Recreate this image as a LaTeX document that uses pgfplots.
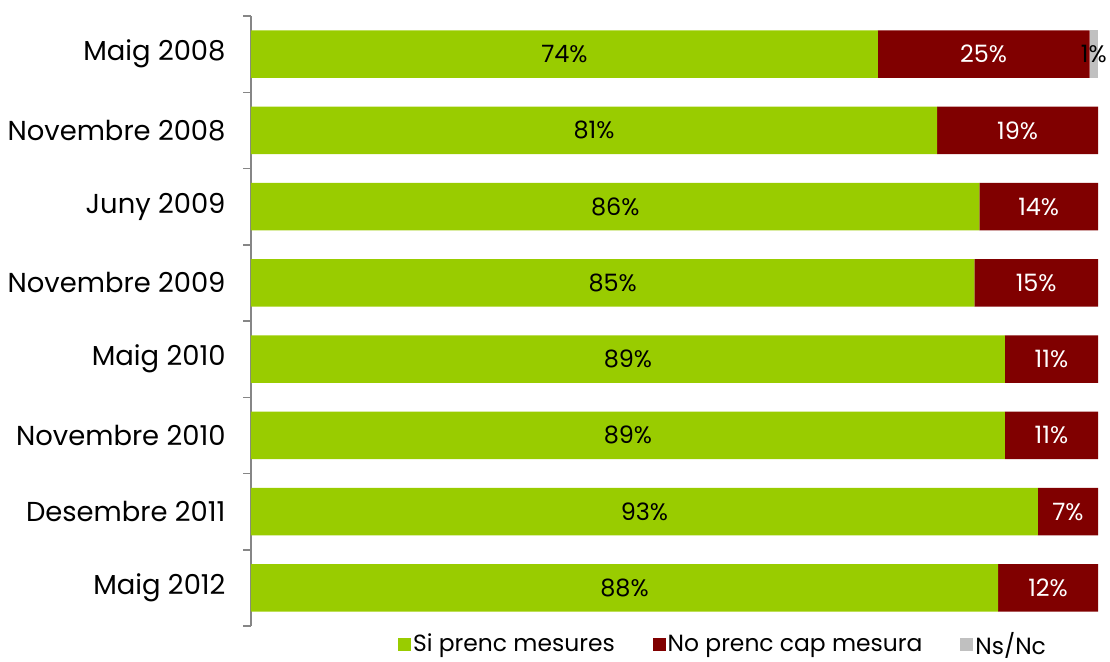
\documentclass[border=0pt]{standalone}
\usepackage{pgfplots}
\pgfplotsset{compat=1.18}
\usepackage{fontspec}
\setmainfont{Poppins}
\definecolor{cgreen}{RGB}{153,204,0}
\definecolor{cred}{RGB}{128,0,0}
\definecolor{cgray}{RGB}{192,192,192}
\definecolor{axgray}{RGB}{134,134,134}
\pgfplotsset{
  common/.style={
    at={(251bp,36bp)}, anchor=south west,
    scale only axis, width=847bp, height=610bp,
    xmin=0, xmax=100, ymin=-0.5, ymax=7.5,
    y dir=reverse,
  }
}
\begin{document}
\begin{tikzpicture}
\useasboundingbox (0,0) rectangle (1110bp,662bp);
\begin{axis}[
  common,
  xbar stacked, bar width=0.62,
  axis x line=none,
  axis y line*=left,
  y axis line style={axgray, line width=1.5bp},
  ytick={0,...,7},
  yticklabels={Maig 2008, Novembre 2008, Juny 2009, Novembre 2009, Maig 2010, Novembre 2010, Desembre 2011, Maig 2012},
  major tick length=0pt,
  minor ytick={-0.5,0.5,...,7.5},
  minor tick length=8bp,
  tick align=outside,
  minor tick style={axgray, line width=1.5bp},
  yticklabel style={font=\fontsize{27.5}{31}\selectfont, xshift=-22bp},
  legend style={at={(0.17,-0.003)}, anchor=north west, draw=none, fill=none,
    legend columns=3, font=\fontsize{23.5}{27}\selectfont,
    /tikz/every even column/.append style={column sep=36bp}},
  legend image code/.code={\fill[#1,draw=none] (0bp,-7bp) rectangle (13bp,6bp);},
]
\addplot[fill=cgreen, draw=none] coordinates {(74,0) (81,1) (86,2) (85.4,3) (89,4) (89,5) (92.9,6) (88.2,7)};
\addplot[fill=cred, draw=none] coordinates {(25,0) (19,1) (14,2) (14.6,3) (11,4) (11,5) (7.1,6) (11.8,7)};
\addplot[fill=cgray, draw=none] coordinates {(1,0) (0,1) (0,2) (0,3) (0,4) (0,5) (0,6) (0,7)};
\legend{Si prenc mesures, No prenc cap mesura, Ns/Nc}
\end{axis}
\begin{axis}[
  common, hide axis,
  nodes near coords, point meta=explicit symbolic,
  every node near coord/.append style={anchor=center, font=\fontsize{24}{28}\selectfont},
]
\addplot[draw=none, nodes near coords style={text=black}] coordinates {
 (37,0) [74\%] (40.5,1) [81\%] (43,2) [86\%] (42.7,3) [85\%]
 (44.5,4) [89\%] (44.5,5) [89\%] (46.45,6) [93\%] (44.1,7) [88\%]};
\addplot[draw=none, nodes near coords style={text=white}] coordinates {
 (86.5,0) [25\%] (90.5,1) [19\%] (93,2) [14\%] (92.7,3) [15\%]
 (94.5,4) [11\%] (94.5,5) [11\%] (96.45,6) [7\%] (94.1,7) [12\%]};
\addplot[draw=none, nodes near coords style={text=black}] coordinates {(99.5,0) [1\%]};
\end{axis}
\end{tikzpicture}
\end{document}
